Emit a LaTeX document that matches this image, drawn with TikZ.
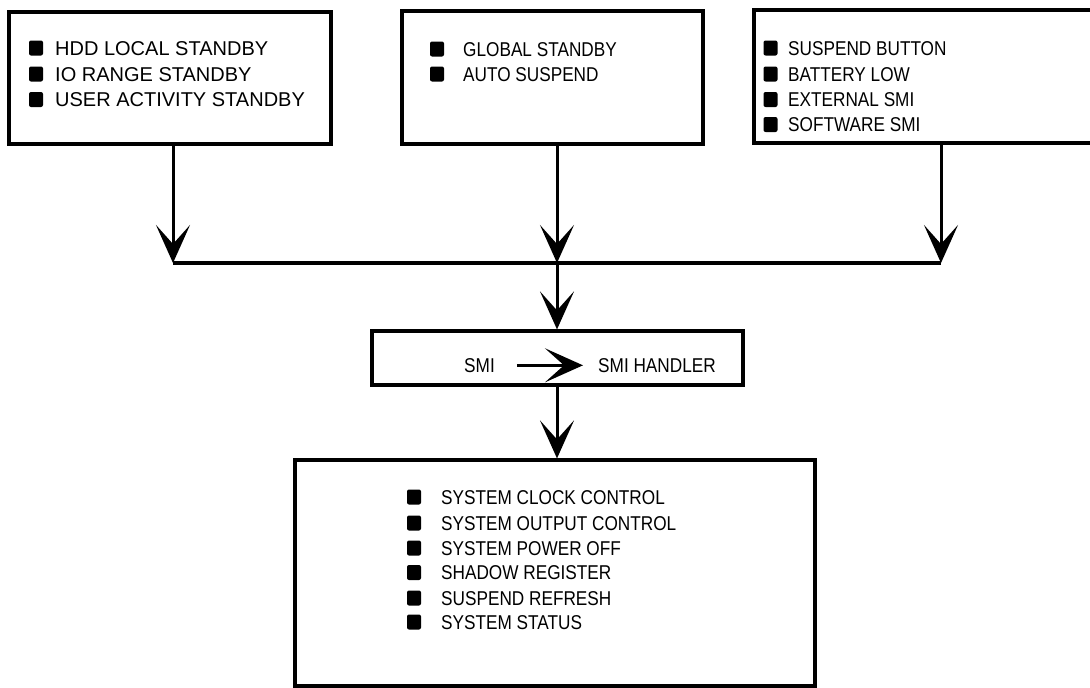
\documentclass[tikz,border=0pt]{standalone}
\usepackage{fontspec}
\setmainfont{Liberation Sans}
\newfontfamily\narrowfont{Liberation Sans}[FakeStretch=0.86]
\usetikzlibrary{arrows.meta}
\begin{document}
\begin{tikzpicture}[x=1pt,y=-1pt,
  box/.style={draw=black,line width=3.2pt,fill=white,inner sep=0pt},
  bul/.style={fill=black,rounded corners=2pt,minimum width=14pt,minimum height=15pt,inner sep=0pt},
  lbl/.style={anchor=base west,inner sep=0pt,font=\fontsize{20}{24}\selectfont},
  nlbl/.style={lbl,font=\fontsize{20}{24}\selectfont\narrowfont},
  arr/.style={line width=3pt,-{Stealth[length=38pt,width=34pt,inset=19pt]}},
  bar/.style={line width=4pt}]
\useasboundingbox (0,0) rectangle (1090,688);
% boxes
\node[box,minimum width=322pt,minimum height=132pt] (b1) at (170,78) {};
\node[box,minimum width=301pt,minimum height=133pt] (b2) at (552.5,77.5) {};
\node[box,minimum width=341pt,minimum height=133pt] (b3) at (924.5,76.5) {};
\node[box,minimum width=371pt,minimum height=54pt] (mid) at (557.5,358) {};
\node[box,minimum width=520pt,minimum height=226pt] (out) at (555,573) {};
% box 1
\node[bul] (q11) at (36,48) {};
\node[bul] (q12) at (36,74) {};
\node[bul] (q13) at (36,99.5) {};
\node[lbl] (t11) at (55,55.2) {HDD LOCAL STANDBY};
\node[lbl] (t12) at (55,81.2) {IO RANGE STANDBY};
\node[lbl] (t13) at (55,106.7) {USER ACTIVITY STANDBY};
% box 2
\node[bul] (q21) at (437,49) {};
\node[bul] (q22) at (437,74) {};
\node[nlbl] (t21) at (463,56.2) {GLOBAL STANDBY};
\node[nlbl] (t22) at (463,81.2) {AUTO SUSPEND};
% box 3
\node[bul] (q31) at (770.5,48) {};
\node[bul] (q32) at (770.5,74) {};
\node[bul] (q33) at (770.5,99.5) {};
\node[bul] (q34) at (770.5,124.5) {};
\node[nlbl] (t31) at (788,55.2) {SUSPEND BUTTON};
\node[nlbl] (t32) at (788,81.2) {BATTERY LOW};
\node[nlbl] (t33) at (788,106.7) {EXTERNAL SMI};
\node[nlbl] (t34) at (788,131.7) {SOFTWARE SMI};
% middle box
\node[nlbl] (smi) at (464,372.2) {SMI};
\node[nlbl] (hand) at (598,372.2) {SMI HANDLER};
\draw[arr] ([xshift=22pt]smi.east) -- ([xshift=-15pt]hand.west);
% bottom box
\node[bul] (q41) at (414,497) {};
\node[bul] (q42) at (414,523) {};
\node[bul] (q43) at (414,548) {};
\node[bul] (q44) at (414,572.5) {};
\node[bul] (q45) at (414,598) {};
\node[bul] (q46) at (414,622) {};
\node[nlbl] (t41) at (441,504.2) {SYSTEM CLOCK CONTROL};
\node[nlbl] (t42) at (441,530.2) {SYSTEM OUTPUT CONTROL};
\node[nlbl] (t43) at (441,555.2) {SYSTEM POWER OFF};
\node[nlbl] (t44) at (441,579.7) {SHADOW REGISTER};
\node[nlbl] (t45) at (441,605.2) {SUSPEND REFRESH};
\node[nlbl] (t46) at (441,629.2) {SYSTEM STATUS};
% connectors
\coordinate (j1) at (173,263);
\coordinate (j2) at (557,263);
\coordinate (j3) at (941,263);
\draw[arr] (b1.south -| j1) -- (j1);
\draw[arr] (b2.south -| j2) -- (j2);
\draw[arr] (b3.south -| j3) -- (j3);
\draw[bar] (j1) -- (j3);
\draw[arr] (j2) -- (mid.north -| j2);
\draw[arr] (mid.south -| j2) -- (out.north -| j2);
\end{tikzpicture}
\end{document}
